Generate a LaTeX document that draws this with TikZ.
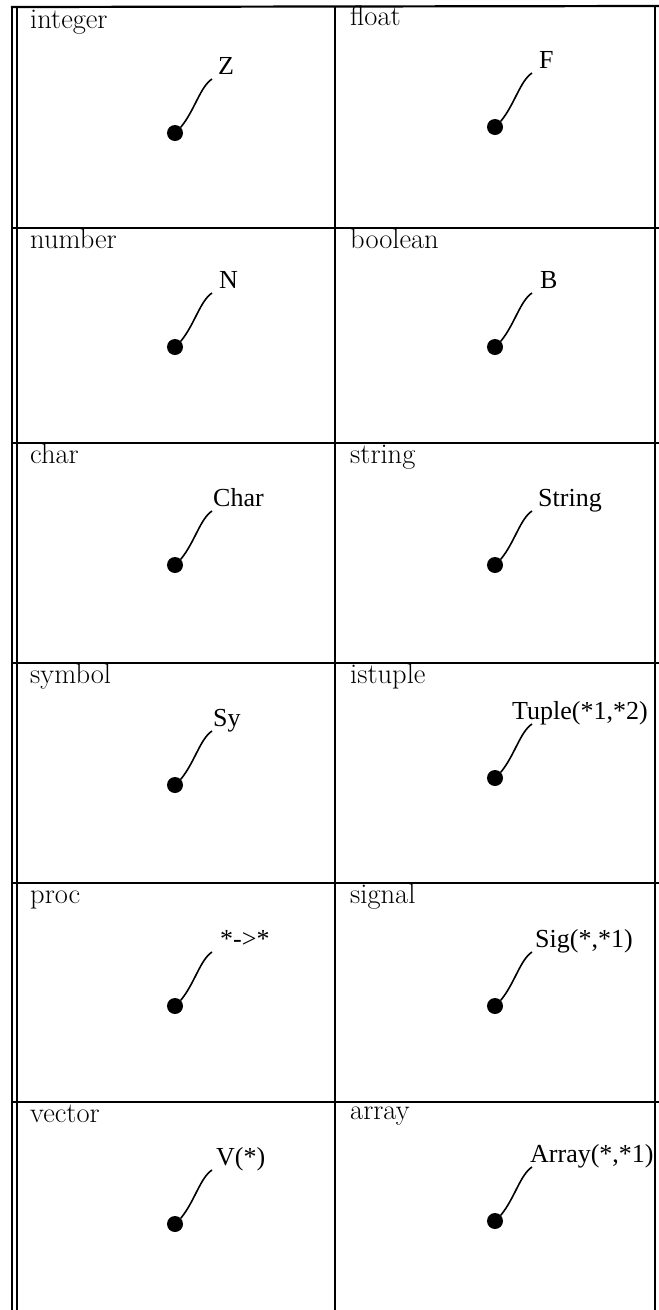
\documentclass[tikz,border=0pt]{standalone}
\usepackage{fontspec}
\newfontfamily\tms{Liberation Serif}
\tikzset{
  gridline/.style={line width=2.2pt, line cap=rect},
  thinline/.style={line width=1.5pt},
  celltitle/.style={anchor=base west, inner sep=0pt, font=\fontsize{28.5}{30}\selectfont},
  typelab/.style={anchor=base west, inner sep=0pt, font=\tms\fontsize{26}{28}\selectfont},
  blob/.style={circle, fill=black, inner sep=0pt, minimum size=16pt},
  wiggle/.style={line width=1.6pt},
}
% id, L, T, title, label, label x, dot offset below row top
\newcommand\typecell[7]{%
  \node[celltitle] (#1-title) at (#2+14, #3+20) {#4};
  \node[blob] (#1-dot) at (#2+159, #3+#7) {};
  \node[typelab] (#1-lab) at (#6, #3+#7-59) {#5};
  \coordinate (#1-end) at (#2+159+37, #3+#7-54);
  \draw[wiggle] (#1-end) .. controls +(-12,8) and +(14,-17) .. (#1-dot.45);
}
\begin{document}
\begin{tikzpicture}[x=1pt, y=-1pt]
\useasboundingbox (0,0) rectangle (659,1310);
% grid
\draw[thinline] (12,7) -- (12,1310);
\draw[thinline] (17,7) -- (17,1310);
\draw[gridline] (12,7) -- (659,6);
\foreach \yy in {228,443,663,883,1102} {
  \draw[gridline] (12,\yy) -- (659,\yy);
}
\draw[gridline] (335,7) -- (335,1310);
\draw[gridline] (655,6) -- (655,1310);
% cells
\typecell{int}{16}{8}{integer}{Z}{218}{125}
\typecell{flt}{336}{5}{float}{F}{539}{122}
\typecell{num}{16}{228}{number}{N}{219}{119}
\typecell{bool}{336}{228}{boolean}{B}{540}{119}
\typecell{chr}{16}{443}{char}{Char}{213}{122}
\typecell{str}{336}{443}{string}{String}{538}{122}
\typecell{sym}{16}{663}{symbol}{Sy}{213}{122}
\typecell{tup}{336}{663}{istuple}{Tuple(*1,*2)}{512}{115}
\typecell{prc}{16}{883}{proc}{*->*}{220}{123}
\typecell{sig}{336}{883}{signal}{Sig(*,*1)}{535}{123}
\typecell{vec}{16}{1102}{vector}{V(*)}{216}{122}
\typecell{arr}{336}{1099}{array}{Array(*,*1)}{530}{122}
\end{tikzpicture}
\end{document}
